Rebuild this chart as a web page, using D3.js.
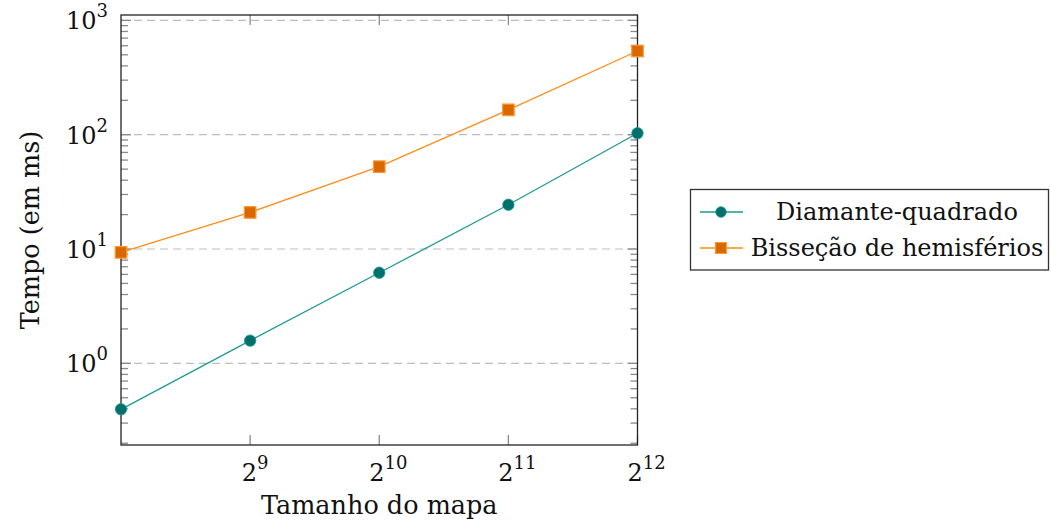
<!DOCTYPE html>
<html>
<head>
<meta charset="utf-8">
<script src="https://cdn.jsdelivr.net/npm/d3@7"></script>
<style>
  body { margin: 0; background: #fff; }
  text { font-family: "DejaVu Serif", "Liberation Serif", serif; fill: #111; }
</style>
</head>
<body>
<div id="chart"></div>
<script>
// --- données ---
const sizes = [256, 512, 1024, 2048, 4096];
const diamante = [0.396, 1.58, 6.2, 24.4, 103];
const bissecao = [9.35, 20.9, 52.5, 165, 540];
const seriesNames = ['Diamante-quadrado', 'Bisseção de hemisférios'];
const xTickExps = [9, 10, 11, 12];
const yTickExps = [0, 1, 2, 3];

const width = 1051, height = 525;
const fontSize = 24;
const teal = { line: '#1f9a93', fill: '#00706b' };
const orange = { line: '#ff8c1a', fill: '#d96800', stroke: '#ff9a33' };

const svg = d3.select('#chart').append('svg')
  .attr('width', width).attr('height', height);

const x = d3.scaleLog().base(2).domain([256, 4096]).range([121, 637.5]);
const y = d3.scaleLog().domain([0.193, 1115]).range([445, 15]);

const pLeft = x.range()[0], pRight = x.range()[1];
const pTop = y.range()[1], pBottom = y.range()[0];

// grille (majeures y)
svg.append('g').selectAll('line').data(yTickExps).enter().append('line')
  .attr('x1', pLeft).attr('x2', pRight)
  .attr('y1', d => y(Math.pow(10, d))).attr('y2', d => y(Math.pow(10, d)))
  .attr('stroke', '#bdbdbd').attr('stroke-width', 1.2)
  .attr('stroke-dasharray', '8,5');

// graduations mineures y
const minor = [];
for (let e = -1; e <= 3; e++) {
  for (let m = 2; m <= 9; m++) {
    const v = m * Math.pow(10, e);
    if (v >= y.domain()[0] && v <= y.domain()[1]) minor.push(v);
  }
}
const tickColor = '#8a8a8a';
const ticks = svg.append('g').attr('stroke', tickColor).attr('stroke-width', 1.3);
minor.forEach(v => {
  ticks.append('line').attr('x1', pLeft).attr('x2', pLeft + 7).attr('y1', y(v)).attr('y2', y(v));
  ticks.append('line').attr('x1', pRight).attr('x2', pRight - 7).attr('y1', y(v)).attr('y2', y(v));
});
yTickExps.forEach(e => {
  const v = Math.pow(10, e);
  ticks.append('line').attr('x1', pLeft).attr('x2', pLeft + 10).attr('y1', y(v)).attr('y2', y(v));
  ticks.append('line').attr('x1', pRight).attr('x2', pRight - 10).attr('y1', y(v)).attr('y2', y(v));
});
xTickExps.forEach(e => {
  const v = Math.pow(2, e);
  ticks.append('line').attr('x1', x(v)).attr('x2', x(v)).attr('y1', pBottom).attr('y2', pBottom - 10);
  ticks.append('line').attr('x1', x(v)).attr('x2', x(v)).attr('y1', pTop).attr('y2', pTop + 10);
});

// cadre
svg.append('rect')
  .attr('x', pLeft).attr('y', pTop)
  .attr('width', pRight - pLeft).attr('height', pBottom - pTop)
  .attr('fill', 'none').attr('stroke', '#222').attr('stroke-width', 1.3);

// étiquettes y
yTickExps.forEach(e => {
  const t = svg.append('text')
    .attr('x', 108).attr('y', y(Math.pow(10, e)) + 9)
    .attr('text-anchor', 'end')
    .style('font-size', fontSize + 'px');
  t.append('tspan').text('10');
  t.append('tspan').attr('dy', -12).style('font-size', '18px').text(e);
});

// étiquettes x
xTickExps.forEach(e => {
  const t = svg.append('text')
    .attr('x', x(Math.pow(2, e)) + (e > 9 ? 9 : 5)).attr('y', 481)
    .attr('text-anchor', 'middle')
    .style('font-size', fontSize + 'px');
  t.append('tspan').text('2');
  t.append('tspan').attr('dy', -12).style('font-size', '18px').text(e);
});

// titres des axes
svg.append('text')
  .attr('x', (pLeft + pRight) / 2).attr('y', 514)
  .attr('text-anchor', 'middle')
  .style('font-size', '25.5px')
  .text('Tamanho do mapa');

svg.append('text')
  .attr('transform', `translate(39, ${(pTop + pBottom) / 2}) rotate(-90)`)
  .attr('text-anchor', 'middle')
  .style('font-size', '25.5px')
  .text('Tempo (em ms)');

// séries
const line = d3.line().x(d => x(d[0])).y(d => y(d[1]));
const d1 = sizes.map((s, i) => [s, diamante[i]]);
const d2 = sizes.map((s, i) => [s, bissecao[i]]);

const plot = svg.append('g');
plot.append('path').datum(d1).attr('d', line)
  .attr('fill', 'none').attr('stroke', teal.line).attr('stroke-width', 1.3);
plot.append('path').datum(d2).attr('d', line)
  .attr('fill', 'none').attr('stroke', orange.line).attr('stroke-width', 1.3);

plot.selectAll('circle.m').data(d1).enter().append('circle')
  .attr('class', 'm')
  .attr('cx', d => x(d[0])).attr('cy', d => y(d[1])).attr('r', 5.7)
  .attr('fill', teal.fill).attr('stroke', teal.line).attr('stroke-width', 0.8);

plot.selectAll('rect.m').data(d2).enter().append('rect')
  .attr('class', 'm')
  .attr('x', d => x(d[0]) - 5.8).attr('y', d => y(d[1]) - 5.8)
  .attr('width', 11.6).attr('height', 11.6)
  .attr('fill', orange.fill).attr('stroke', orange.stroke).attr('stroke-width', 1.2);

// légende
const legend = svg.append('g');
legend.append('rect')
  .attr('x', 690.5).attr('y', 189.5).attr('width', 358).attr('height', 80.5)
  .attr('fill', '#fff').attr('stroke', '#333').attr('stroke-width', 1.3);

const rowY = [212, 248];
const styles = [teal, orange];
seriesNames.forEach((name, i) => {
  const st = styles[i];
  legend.append('line')
    .attr('x1', 700).attr('x2', 743).attr('y1', rowY[i]).attr('y2', rowY[i])
    .attr('stroke', st.line).attr('stroke-width', 1.3);
  if (i === 0) {
    legend.append('circle').attr('cx', 721).attr('cy', rowY[i]).attr('r', 5.3)
      .attr('fill', st.fill).attr('stroke', st.line).attr('stroke-width', 0.8);
  } else {
    legend.append('rect').attr('x', 715.5).attr('y', rowY[i] - 5.5)
      .attr('width', 11).attr('height', 11)
      .attr('fill', st.fill).attr('stroke', st.stroke).attr('stroke-width', 1.2);
  }
  legend.append('text')
    .attr('x', 897).attr('y', rowY[i] + 8)
    .attr('text-anchor', 'middle')
    .style('font-size', fontSize + 'px')
    .text(name);
});
</script>
</body>
</html>
